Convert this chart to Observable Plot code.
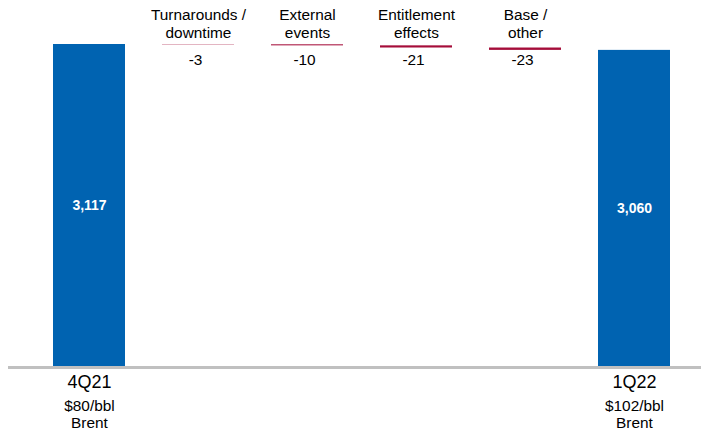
<!DOCTYPE html>
<html>
<head>
<meta charset="utf-8">
<script src="https://cdn.jsdelivr.net/npm/d3@7"></script>
<script src="https://cdn.jsdelivr.net/npm/@observablehq/plot@0.6"></script>
<style>
  html, body { margin: 0; padding: 0; background: #ffffff; }
  #chart svg { display: block; font-family: "Liberation Sans", Arial, sans-serif; }
</style>
</head>
<body>
<div id="chart"></div>
<script>
// ---- data ----
const categories = ["4Q21", "Turnarounds", "External", "Entitlement", "Base", "1Q22"];
const values = [3117, -3, -10, -21, -23, 3060];
const kinds = ["total", "delta", "delta", "delta", "delta", "total"];
const topLabels = ["", "Turnarounds /\ndowntime", "External\nevents", "Entitlement\neffects", "Base /\nother", ""];
const valueLabels = ["3,117", "-3", "-10", "-21", "-23", "3,060"];
const bottomLabels = ["4Q21", "", "", "", "", "1Q22"];
const subLabels = ["$80/bbl\nBrent", "", "", "", "", "$102/bbl\nBrent"];

// ---- build waterfall rows ----
let running = 0;
const rows = categories.map((c, i) => {
  let y1, y2;
  if (kinds[i] === "total") { y1 = 0; y2 = values[i]; running = values[i]; }
  else { y1 = running; y2 = running + values[i]; running = y2; }
  return { cat: c, kind: kinds[i], value: values[i], y1, y2,
           top: topLabels[i], vlabel: valueLabels[i], bottom: bottomLabels[i], sub: subLabels[i] };
});
const totals = rows.filter(d => d.kind === "total");
const deltas = rows.filter(d => d.kind === "delta");

const W = 701, H = 434;
const chart = Plot.plot({
  width: W,
  height: H,
  marginLeft: 8,
  marginRight: 0,
  marginTop: 0,
  marginBottom: 0,
  style: { fontFamily: "Liberation Sans, Arial, sans-serif", background: "#ffffff" },
  x: { domain: categories, range: [52, 671], paddingInner: 0.342, paddingOuter: 0, axis: null },
  y: { domain: [0, 3117], range: [366, 44], axis: null },
  marks: [
    Plot.barY(totals, { x: "cat", y1: "y1", y2: "y2", fill: "#0063b1" }),
    Plot.barY(deltas, { x: "cat", y1: "y1", y2: "y2", fill: "#a50d3a" }),
    Plot.ruleY([0], { stroke: "#c0c0c0", strokeWidth: 3, dy: 1 }),
    // value labels inside totals
    Plot.text(totals, { x: "cat", y: d => d.value / 2, text: "vlabel", fill: "#ffffff",
      fontWeight: "bold", fontSize: 14 }),
    // delta category labels at top
    Plot.text(deltas, { x: "cat", text: "top", frameAnchor: "top", lineAnchor: "middle",
      dy: 23, fontSize: 15.4, lineHeight: 1.17, fill: "#000000" }),
    Plot.text(deltas, { x: "cat", text: "vlabel", frameAnchor: "top", lineAnchor: "middle",
      dy: 59.5, dx: -3, fontSize: 15.4, fill: "#000000" }),
    // bottom labels for totals
    Plot.text(totals, { x: "cat", text: "bottom", frameAnchor: "top", lineAnchor: "middle",
      dy: 382, fontSize: 18, fill: "#000000" }),
    Plot.text(totals, { x: "cat", text: "sub", frameAnchor: "top", lineAnchor: "middle",
      dy: 413.5, fontSize: 15.4, lineHeight: 1.1, fill: "#000000" })
  ]
});
document.getElementById("chart").appendChild(chart);
</script>
</body>
</html>
